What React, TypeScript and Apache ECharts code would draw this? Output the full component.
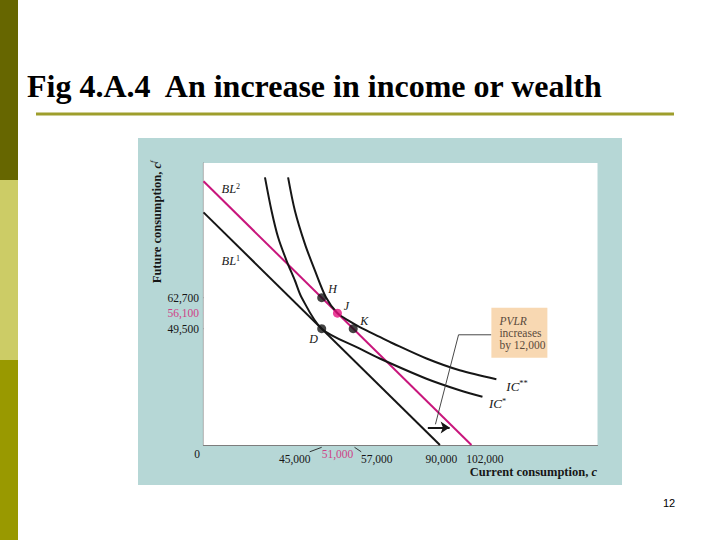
import React, { useEffect, useRef } from "react";
import * as echarts from "echarts";

// ---------- data ----------
const xRange = [0, 150000];
const yRange = [0, 120000];
const budgetLine1 = [[0, 99000], [90000, 0]];
const budgetLine2 = [[0, 112200], [102000, 0]];
const icStar = [
  [23400, 113900], [25900, 99700], [28400, 88400], [31600, 78500], [34800, 70000],
  [37300, 62900], [45000, 49500], [59500, 41000], [67100, 36800], [84900, 28200],
  [97500, 23300], [106200, 20500],
];
const icStarStar = [
  [32200, 113900], [34800, 99700], [38600, 85600], [42400, 74300], [46600, 62900],
  [51000, 56100], [55700, 52600], [59500, 50200], [67100, 46000], [72200, 43200],
  [84900, 36800], [97500, 31800], [111500, 28000],
];
const pointNames = ["H", "J", "D", "K"];
const pointX = [45000, 51000, 45000, 57000];
const pointY = [62700, 56100, 49500, 49500];
const yTickValues = [62700, 56100, 49500];
const yTickLabels = ["62,700", "56,100", "49,500"];
const xTickValues = [0, 45000, 51000, 57000, 90000, 102000];
const xTickLabels = ["0", "45,000", "51,000", "57,000", "90,000", "102,000"];
const leaderLine = [[109600, 46900], [97100, 46900], [88300, 8800]];
const shiftArrow = [[85400, 7500], [93700, 7500]];
const noteLines = ["PVLR", "increases", "by 12,000"];
const titleText = "Fig 4.A.4\u00a0 An increase in income or wealth";
const xAxisTitle = "Current consumption, ";
const yAxisTitle = "Future consumption, ";
const pageNumber = "12";

// ---------- styles ----------
const SERIF = "'Liberation Serif', 'Times New Roman', serif";
const BLACK = "#161616";
const PINK = "#C8167C";
const PINK_TEXT = "#CF3F86";
const TEAL = "#B6D7D6";

export default function App() {
  const ref = useRef<HTMLDivElement>(null);

  useEffect(() => {
    const el = ref.current!;
    const chart = echarts.init(el, null, { renderer: "svg" });

    const guideSeries: any[] = [];
    [0, 1, 3].forEach((i) => {
      const c = i === 1 ? PINK_TEXT : "#222";
      guideSeries.push({
        type: "line", symbol: "none", silent: true, z: 1,
        lineStyle: { color: c, width: 1.3, type: [1.4, 2.6] },
        data: [[0, pointY[i]], [pointX[i], pointY[i]]],
      });
      guideSeries.push({
        type: "line", symbol: "none", silent: true, z: 1,
        lineStyle: { color: c, width: 1.3, type: [1.4, 2.6] },
        data: [[pointX[i], pointY[i]], [pointX[i], 0]],
      });
    });

    chart.setOption({
      animation: false,
      grid: {
        left: 203.5, top: 163, width: 394, height: 282,
        show: true, backgroundColor: "#ffffff", borderWidth: 0, z: 2,
      },
      xAxis: {
        type: "value", min: xRange[0], max: xRange[1],
        axisLine: { show: true, lineStyle: { color: "#7d7d7d", width: 1.2 } },
        axisTick: { show: false }, axisLabel: { show: false }, splitLine: { show: false },
      },
      yAxis: {
        type: "value", min: yRange[0], max: yRange[1],
        axisLine: { show: true, lineStyle: { color: "#7d7d7d", width: 1.2 } },
        axisTick: { show: false }, axisLabel: { show: false }, splitLine: { show: false },
      },
      series: [
        ...guideSeries,
        {
          type: "line", symbol: "none", z: 3,
          lineStyle: { color: BLACK, width: 2 }, data: budgetLine1,
        },
        {
          type: "line", symbol: "none", z: 3,
          lineStyle: { color: PINK, width: 2 }, data: budgetLine2,
        },
        {
          type: "line", symbol: "none", z: 4, smooth: 0.3,
          lineStyle: { color: BLACK, width: 2 }, data: icStar,
        },
        {
          type: "line", symbol: "none", z: 4, smooth: 0.3,
          lineStyle: { color: BLACK, width: 2 }, data: icStarStar,
        },
        {
          type: "line", symbol: "none", z: 4,
          lineStyle: { color: "#333", width: 0.9 }, data: leaderLine,
          markLine: {
            silent: true, symbol: ["none", "arrow"], symbolSize: [9, 9],
            label: { show: false },
            lineStyle: { color: BLACK, width: 2, type: "solid" },
            data: [[{ coord: shiftArrow[0] }, { coord: shiftArrow[1] }]],
          },
        },
        {
          type: "scatter", z: 6, symbolSize: 9,
          data: pointX.map((x, i) => ({
            value: [x, pointY[i]],
            itemStyle: { color: pointNames[i] === "J" ? "#E3127F" : "#151515" },
          })),
        },
      ],
    });

    const px = (p: number[]) => chart.convertToPixel({ gridIndex: 0 }, p) as number[];
    const g: any[] = [];
    const txt = (x: number, y: number, style: any, z = 50) =>
      g.push({
        type: "text", x, y, z,
        style: {
          fontFamily: SERIF, fill: BLACK,
          verticalAlign: "middle", textVerticalAlign: "middle",
          ...style,
          textAlign: style.align || "left",
        },
      });

    // slide decorations
    g.push({ type: "rect", z: -5, shape: { x: 0, y: 0, width: 18, height: 180 }, style: { fill: "#666600" } });
    g.push({ type: "rect", z: -5, shape: { x: 0, y: 180, width: 18, height: 180 }, style: { fill: "#CCCC66" } });
    g.push({ type: "rect", z: -5, shape: { x: 0, y: 360, width: 18, height: 180 }, style: { fill: "#999900" } });
    txt(27, 86, { text: titleText, fontSize: 32, fontWeight: "bold", fill: "#000" });
    g.push({ type: "rect", z: -5, shape: { x: 36, y: 112.5, width: 638, height: 3 }, style: { fill: "#9E9E2C" } });
    txt(669, 503, { text: pageNumber, fontSize: 11, fontFamily: "'Liberation Sans', Arial, sans-serif", align: "center", fill: "#000" });

    // teal panel
    g.push({ type: "rect", z: -10, shape: { x: 138, y: 138, width: 484, height: 347 }, style: { fill: TEAL } });

    // y tick labels
    yTickValues.forEach((v, i) => {
      const p = px([0, v]);
      txt(p[0] - 4.5, p[1], {
        text: yTickLabels[i], fontSize: 11.5, align: "right",
        fill: v === pointY[1] ? PINK_TEXT : BLACK,
      });
    });

    // x tick labels
    const xLabelShift: Record<number, number[]> = {
      0: [-6.5, 8.5], 45000: [-27, 13.5], 51000: [0, 9], 57000: [23.5, 13.5],
      90000: [1.5, 13.5], 102000: [13.5, 13.5],
    };
    xTickValues.forEach((v, i) => {
      const p = px([v, 0]);
      const s = xLabelShift[v];
      txt(p[0] + s[0], p[1] + s[1], {
        text: xTickLabels[i], fontSize: 11.5, align: "center",
        fill: v === pointX[1] ? PINK_TEXT : BLACK,
      });
    });
    const p45 = px([pointX[0], 0]);
    const p57 = px([pointX[3], 0]);
    g.push({ type: "line", z: 40, shape: { x1: p45[0] - 12, y1: p45[1] + 6.8, x2: p45[0], y2: p45[1] + 2.3 }, style: { stroke: "#222", lineWidth: 0.9 } });
    g.push({ type: "line", z: 40, shape: { x1: p57[0] + 1.3, y1: p57[1] + 2.3, x2: p57[0] + 8, y2: p57[1] + 6.8 }, style: { stroke: "#222", lineWidth: 0.9 } });

    // axis titles
    txt(597, 471.5, {
      text: "{a|" + xAxisTitle + "}{b|c}", align: "right",
      rich: {
        a: { fontFamily: SERIF, fontSize: 12.5, fill: BLACK, fontWeight: "bold" },
        b: { fontFamily: SERIF, fontSize: 12.5, fill: BLACK, fontStyle: "italic", fontWeight: "bold" },
      },
    });
    g.push({
      type: "text", x: 157, y: 222, z: 50, rotation: Math.PI / 2,
      style: {
        text: "{a|" + yAxisTitle + "}{b|c}{c|f}",
        align: "center", textAlign: "center", verticalAlign: "middle", textVerticalAlign: "middle",
        rich: {
          a: { fontFamily: SERIF, fontSize: 12.5, fill: BLACK, fontWeight: "bold" },
          b: { fontFamily: SERIF, fontSize: 12.5, fill: BLACK, fontStyle: "italic", fontWeight: "bold" },
          c: { fontFamily: SERIF, fontSize: 8, fill: BLACK, fontStyle: "italic", padding: [0, 0, 7, 0] },
        },
      },
    });

    // point labels
    const pointLabelShift: Record<string, number[]> = {
      H: [11, -9], J: [9, -7.5], K: [11, -8], D: [-8, 10],
    };
    pointNames.forEach((n, i) => {
      const p = px([pointX[i], pointY[i]]);
      const s = pointLabelShift[n];
      txt(p[0] + s[0], p[1] + s[1], { text: n, fontSize: 12, fontStyle: "italic", align: "center" });
    });

    // budget line labels
    const bl2p = px(budgetLine2[0]);
    const bl1p = px(budgetLine1[0]);
    const supRich = (size: number) => ({
      m: { fontFamily: SERIF, fontSize: size, fill: BLACK, fontStyle: "italic" },
      s: { fontFamily: SERIF, fontSize: size * 0.65, fill: BLACK, padding: [0, 0, size * 0.45, 0] },
    });
    txt(bl2p[0] + 18, bl2p[1] + 8, { text: "{m|BL}{s|2}", rich: supRich(12.5) });
    txt(bl1p[0] + 18, bl1p[1] + 49, { text: "{m|BL}{s|1}", rich: supRich(12.5) });

    // IC labels
    const icss = px(icStarStar[icStarStar.length - 1]);
    const ics = px(icStar[icStar.length - 1]);
    txt(icss[0] + 10, icss[1] + 7, { text: "{m|IC}{s|**}", rich: supRich(13) });
    txt(ics[0] + 6.5, ics[1] + 7, { text: "{m|IC}{s|*}", rich: supRich(13) });

    // PVLR note box
    const lp = px(leaderLine[0]);
    g.push({
      type: "rect", z: 30,
      shape: { x: lp[0], y: lp[1] - 27, width: 56, height: 50 },
      style: { fill: "#F8D8B2" },
    });
    noteLines.forEach((t, i) => {
      txt(lp[0] + 8, lp[1] - 14 + i * 12, {
        text: t, fontSize: 11.5, fill: "#5a4a3c", fontStyle: i === 0 ? "italic" : "normal",
      }, 35);
    });

    chart.setOption({ graphic: g });
    return () => chart.dispose();
  }, []);

  return (
    <div
      ref={ref}
      style={{ position: "fixed", left: 0, top: 0, width: 720, height: 540, background: "#fff" }}
    />
  );
}
